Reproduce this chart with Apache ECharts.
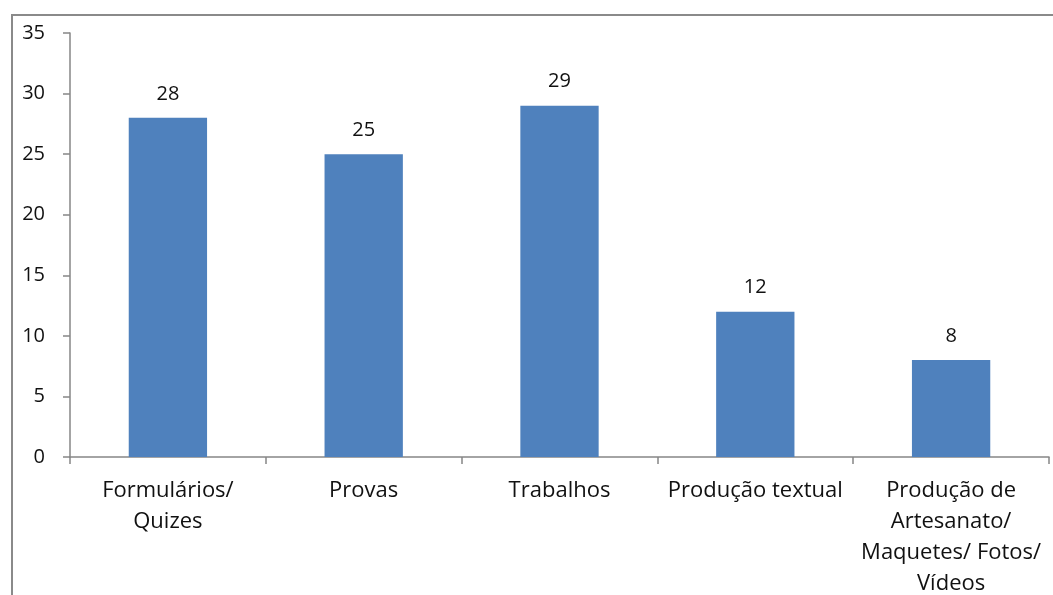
<!DOCTYPE html>
<html>
<head>
<meta charset="utf-8">
<script src="https://cdn.jsdelivr.net/npm/echarts@6/dist/echarts.min.js"></script>
<style>
  html, body { margin: 0; padding: 0; background: #fff; }
  #chart { width: 1053px; height: 595px; }
</style>
</head>
<body>
<div id="chart"></div>
<script>
// Instrumentos de avaliação utilizados
const categories = [
  'Formulários/\nQuizes',
  'Provas',
  'Trabalhos',
  'Produção textual',
  'Produção de\nArtesanato/\nMaquetes/ Fotos/\nVídeos'
];
const values = [28, 25, 29, 12, 8];
const yTicks = { min: 0, max: 35, interval: 5 };

const FONT = '"Open Sans", "Noto Sans", sans-serif';
const AXIS_GRAY = '#868686';
const TEXT = '#111111';

const chart = echarts.init(document.getElementById('chart'));
chart.setOption({
  animation: false,
  graphic: [{
    type: 'rect',
    shape: { x: 12, y: 15, width: 1100, height: 700 },
    style: { fill: 'none', stroke: '#8a8a8a', lineWidth: 2 },
    silent: true,
    z: -1
  }],
  grid: { left: 70, right: 4, top: 33, bottom: 138, outerBoundsMode: 'none', containLabel: false },
  xAxis: {
    type: 'category',
    data: categories,
    axisLine: { lineStyle: { color: AXIS_GRAY, width: 1.5 } },
    axisTick: { show: true, length: 7, lineStyle: { color: AXIS_GRAY, width: 1.5 } },
    axisLabel: {
      interval: 0,
      margin: 18,
      color: TEXT,
      fontFamily: FONT,
      fontSize: 22,
      lineHeight: 31
    }
  },
  yAxis: {
    type: 'value',
    min: yTicks.min,
    max: yTicks.max,
    interval: yTicks.interval,
    splitLine: { show: false },
    axisLine: { show: true, lineStyle: { color: AXIS_GRAY, width: 1.5 } },
    axisTick: { show: true, length: 7, lineStyle: { color: AXIS_GRAY, width: 1.5 } },
    axisLabel: {
      margin: 25,
      color: TEXT,
      fontFamily: FONT,
      fontSize: 20
    }
  },
  series: [{
    type: 'bar',
    data: values,
    barWidth: '40%',
    itemStyle: { color: '#4f81bd' },
    label: {
      show: true,
      position: 'top',
      distance: 14,
      color: TEXT,
      fontFamily: FONT,
      fontSize: 20
    }
  }]
});
</script>
</body>
</html>
